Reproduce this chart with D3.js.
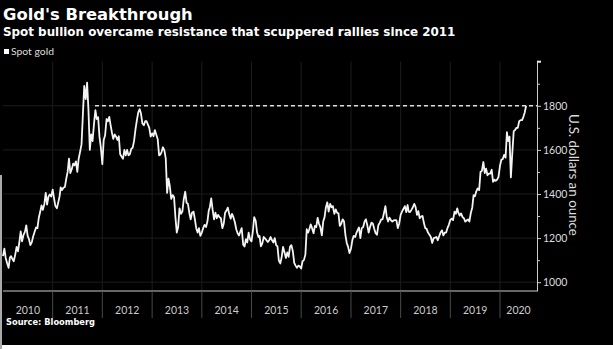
<!DOCTYPE html>
<html><head><meta charset="utf-8">
<script src="https://cdn.jsdelivr.net/npm/d3@7"></script>
<style>html,body{margin:0;padding:0;background:#000;overflow:hidden}</style>
</head><body><svg id="c" width="613" height="349"></svg>
<script>
const title = "Gold's Breakthrough";
const subtitle = "Spot bullion overcame resistance that scuppered rallies since 2011";
const seriesName = "Spot gold";
const source = "Source: Bloomberg";
const yAxisTitle = "U.S. dollars an ounce";
const years = [2010, 2011, 2012, 2013, 2014, 2015, 2016, 2017, 2018, 2019, 2020];
const yTicks = [1000, 1200, 1400, 1600, 1800];
const yMinorTicks = [1100, 1300, 1500, 1700, 1900];
const resistanceLevel = 1800;
const resistanceStart = "2011-11-08";
const sampleDays = [1, 11, 21];

// spot gold, USD/oz, sampled on the 1st, 11th and 21st of each month
const gold2010 = [1118,1152,1110, 1085,1065,1112, 1118,1105,1095, 1125,1160,1140, 1180,1230,1185, 1215,1228,1258,
                  1210,1195,1168, 1182,1208,1228, 1248,1245,1292, 1318,1348,1328, 1355,1405,1352, 1388,1398,1388];
const gold2011 = [1420,1380,1345, 1335,1362,1390, 1430,1418,1428, 1432,1470,1500, 1560,1495,1512, 1538,1530,1548,
                  1500,1560,1590, 1625,1760,1890, 1830,1905,1780, 1600,1670,1640, 1720,1780,1740, 1748,1660,1610];
const gold2012 = [1535,1645,1665, 1740,1730,1750, 1715,1680,1650, 1670,1660,1645, 1662,1580,1570, 1560,1600,1575,
                  1600,1575,1580, 1605,1610,1640, 1695,1735,1770, 1785,1765,1720, 1712,1730,1730, 1715,1700,1660];
const gold2013 = [1675,1662,1690, 1668,1648,1575, 1578,1590,1612, 1598,1560,1405, 1470,1435,1378, 1395,1385,1295,
                  1225,1250,1335, 1310,1320,1375, 1410,1360,1355, 1315,1285,1315, 1320,1285,1245, 1225,1245,1210];
const gold2014 = [1225,1245,1260, 1250,1275,1325, 1340,1380,1330, 1285,1315,1290, 1305,1295,1290, 1245,1265,1315,
                  1325,1338,1310, 1288,1310,1295, 1272,1240,1222, 1212,1230,1245, 1170,1162,1195, 1180,1225,1195];
const gold2015 = [1185,1230,1295, 1278,1225,1205, 1210,1162,1175, 1205,1198,1190, 1182,1190,1205, 1190,1180,1200,
                  1168,1162,1098, 1085,1115,1160, 1135,1110,1135, 1115,1160,1168, 1140,1088,1075, 1065,1075,1072];
const gold2016 = [1062,1095,1100, 1125,1240,1225, 1240,1262,1245, 1222,1255,1250, 1292,1265,1250, 1212,1275,1295,
                  1340,1362,1320, 1355,1340,1345, 1310,1330,1315, 1312,1255,1265, 1285,1275,1215, 1178,1160,1132];
const gold2017 = [1152,1190,1210, 1205,1225,1238, 1248,1200,1245, 1250,1275,1285, 1258,1225,1250, 1270,1265,1242,
                  1222,1215,1258, 1270,1285,1285, 1315,1345,1295, 1275,1293,1282, 1275,1280,1282, 1280,1245,1265];
const gold2018 = [1305,1320,1332, 1345,1318,1350, 1320,1318,1328, 1340,1355,1340, 1305,1322,1290, 1298,1300,1268,
                  1245,1242,1225, 1215,1205,1178, 1200,1202,1205, 1190,1208,1225, 1235,1212,1225, 1225,1245,1260];
const gold2019 = [1282,1288,1282, 1320,1310,1335, 1315,1302,1312, 1295,1290,1275, 1280,1285,1275, 1315,1338,1395,
                  1390,1412,1425, 1418,1500,1505, 1545,1495,1515, 1485,1492,1492, 1510,1455,1465, 1460,1465,1478];
const gold2020 = [1528,1555,1558, 1578,1565,1680, 1640,1660,1475, 1590,1685,1690, 1700,1700,1730, 1735,1735,1750,
                  1770,1800];
const goldByYear = [gold2010, gold2011, gold2012, gold2013, gold2014, gold2015, gold2016, gold2017, gold2018, gold2019, gold2020];

const data = [];
goldByYear.forEach((arr, yi) => arr.forEach((v, i) => {
  data.push({date: new Date(years[yi], Math.floor(i / 3), sampleDays[i % 3]), value: v});
}));

const svg = d3.select("#c");
const W = 613, H = 349;
const pLeft = 3, pRight = 537, pTop = 61.7, pBottom = 291;

svg.append("rect").attr("width", W).attr("height", H).attr("fill", "#000");
svg.append("rect").attr("x", 0).attr("y", 345).attr("width", W).attr("height", 4).attr("fill", "#fff");
svg.append("rect").attr("x", 0).attr("y", 175).attr("width", 2).attr("height", 174).attr("fill", "#aaa");

const x = d3.scaleTime().domain([new Date(2010, 0, 1), new Date(2020, 8, 29)]).range([pLeft, pRight]);
const y = d3.scaleLinear().domain([960, 2000]).range([pBottom, pTop]);

function fit(sel, w) {
  const cur = sel.node().getComputedTextLength();
  const fs = parseFloat(sel.attr("font-size"));
  sel.attr("font-size", fs * w / cur);
}

// titles
fit(svg.append("text").attr("x", 3).attr("y", 20).attr("font-family", "DejaVu Sans").attr("font-weight", "bold")
  .attr("font-size", 16).attr("fill", "#fff").text(title), 190);
fit(svg.append("text").attr("x", 3).attr("y", 36).attr("font-family", "DejaVu Sans").attr("font-weight", "bold")
  .attr("font-size", 12).attr("fill", "#fff").text(subtitle), 453);

// legend
svg.append("rect").attr("x", 4).attr("y", 49).attr("width", 5).attr("height", 5).attr("fill", "#fff");
fit(svg.append("text").attr("x", 11).attr("y", 54.5).attr("font-family", "Lato").attr("font-size", 7.5)
  .attr("fill", "#ddd").text(seriesName), 43);

// gridlines
const grid = svg.append("g").attr("stroke", "#1c1c1c").attr("stroke-width", 1);
grid.selectAll("line.h").data(yTicks).join("line").attr("class", "h")
  .attr("x1", pLeft).attr("x2", pRight).attr("y1", d => y(d)).attr("y2", d => y(d));
grid.selectAll("line.v").data(years.slice(1)).join("line").attr("class", "v")
  .attr("x1", d => x(new Date(d, 0, 1))).attr("x2", d => x(new Date(d, 0, 1)))
  .attr("y1", pTop).attr("y2", pBottom);

// y axis
const yAxis = svg.append("g").attr("transform", `translate(${pRight},0)`)
  .call(d3.axisRight(y).tickValues(yTicks).tickFormat(d3.format("d")).tickSize(4).tickSizeOuter(0).tickPadding(2));
yAxis.select(".domain").attr("stroke", "#ccc");
yAxis.selectAll(".tick line").attr("stroke", "#ccc");
yAxis.selectAll(".tick text").attr("fill", "#ddd").attr("font-family", "Lato").attr("font-size", 10.5);
svg.append("g").attr("transform", `translate(${pRight},0)`)
  .call(d3.axisRight(y).tickValues(yMinorTicks).tickSize(3).tickSizeOuter(0).tickFormat(""))
  .call(g => g.select(".domain").remove())
  .selectAll("line").attr("stroke", "#ccc");
svg.append("rect").attr("x", pRight).attr("y", pTop - 1).attr("width", 4).attr("height", 2).attr("fill", "#eee");

const yt = svg.append("text").attr("transform", `translate(569,175) rotate(90)`).attr("text-anchor", "middle")
  .attr("font-family", "Lato").attr("font-size", 13).attr("fill", "#ddd").text(yAxisTitle);
fit(yt, 122);

// x axis
svg.append("line").attr("x1", pLeft).attr("x2", pRight).attr("y1", pBottom).attr("y2", pBottom)
  .attr("stroke", "#ccc").attr("stroke-width", 1);
svg.selectAll("line.sep").data(years.slice(1)).join("line").attr("class", "sep")
  .attr("x1", d => x(new Date(d, 0, 1))).attr("x2", d => x(new Date(d, 0, 1)))
  .attr("y1", pBottom).attr("y2", 318).attr("stroke", "#4a4a4a");
svg.selectAll("text.yr").data(years).join("text").attr("class", "yr")
  .attr("x", d => (x(new Date(d, 0, 1)) + Math.min(x(new Date(d + 1, 0, 1)), pRight)) / 2)
  .attr("y", 314).attr("text-anchor", "middle").attr("font-family", "Lato").attr("font-size", 10.5)
  .attr("fill", "#ccc").text(d => d);

// resistance
svg.append("line").attr("x1", x(new Date(resistanceStart))).attr("x2", pRight)
  .attr("y1", y(resistanceLevel)).attr("y2", y(resistanceLevel))
  .attr("stroke", "#ddd").attr("stroke-width", 1.5).attr("stroke-dasharray", "4,3");

// series
svg.append("path").datum(data).attr("fill", "none").attr("stroke", "#f4f4f4").attr("stroke-width", 1.8)
  .attr("stroke-linejoin", "round")
  .attr("d", d3.line().x(d => x(d.date)).y(d => y(d.value)));

// source
fit(svg.append("text").attr("x", 6).attr("y", 325).attr("font-family", "DejaVu Sans").attr("font-weight", "bold")
  .attr("font-size", 8).attr("fill", "#fff").text(source), 89);
</script></body></html>
